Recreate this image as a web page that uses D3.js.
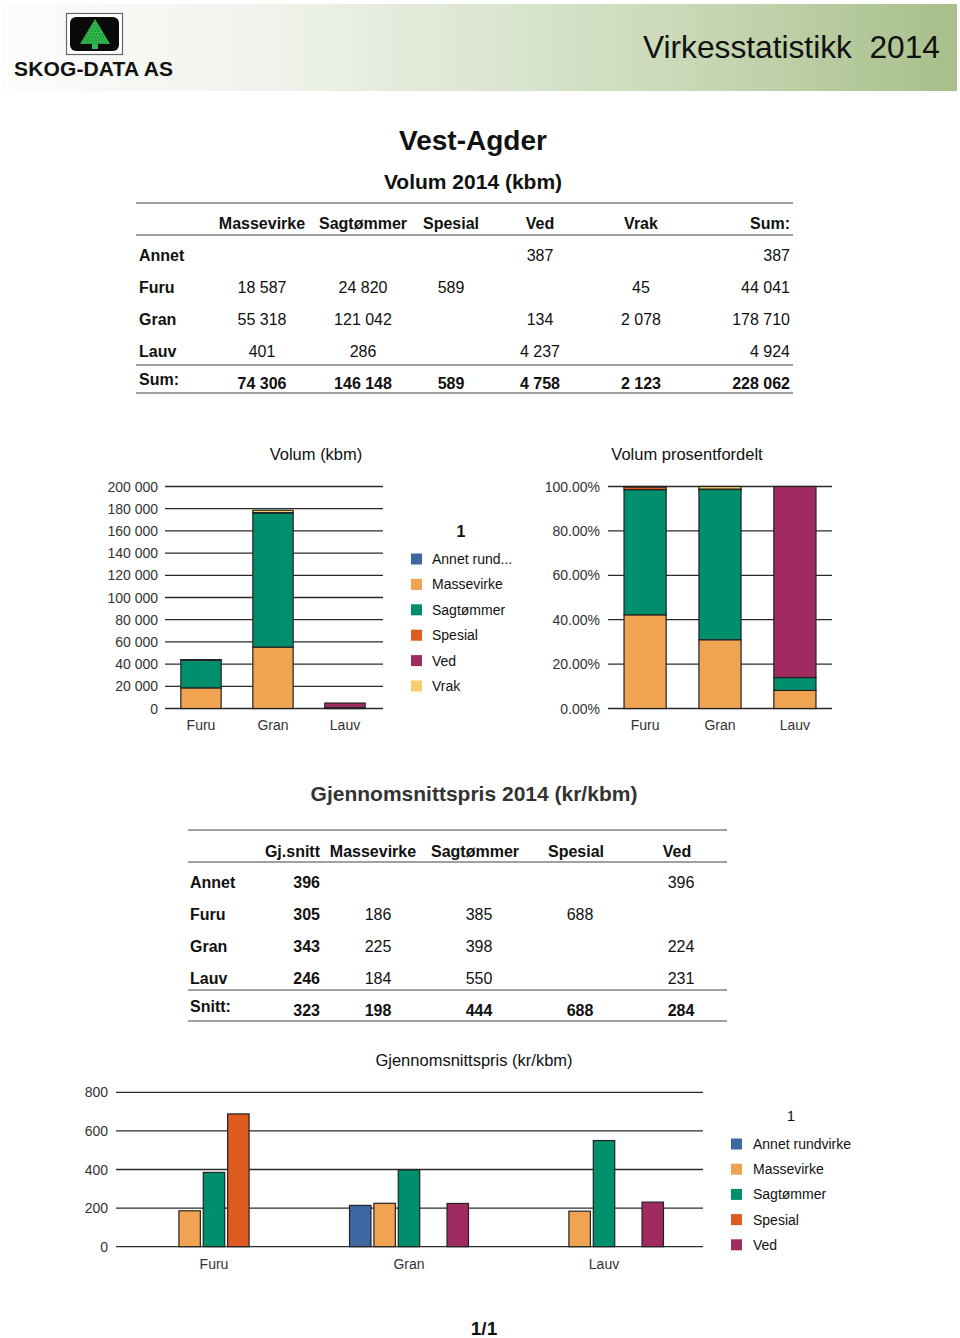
<!DOCTYPE html>
<html><head><meta charset="utf-8">
<script src="https://cdn.jsdelivr.net/npm/d3@7"></script>
<style>
body{margin:0;background:#fff}
svg text{font-family:"Liberation Sans",Arial,sans-serif}
</style>
</head><body>
<svg id="c" width="960" height="1338"></svg>
<script>
// ---------- DATA ----------
const categories = ["Furu", "Gran", "Lauv"];
const seriesNames = ["Annet rundvirke", "Massevirke", "Sagtømmer", "Spesial", "Ved", "Vrak"];
const legend1Labels = ["Annet rund...", "Massevirke", "Sagtømmer", "Spesial", "Ved", "Vrak"];
const legend3Labels = ["Annet rundvirke", "Massevirke", "Sagtømmer", "Spesial", "Ved"];
const seriesColors = ["#3d67a0", "#f0a452", "#008f6c", "#de5b21", "#a02b60", "#f9cd6b"];

// Volum (kbm) per category (Furu, Gran, Lauv)
const volAnnet = [0, 0, 0];
const volMassevirke = [18587, 55318, 401];
const volSagtommer = [24820, 121042, 286];
const volSpesial = [589, 0, 0];
const volVed = [0, 134, 4237];
const volVrak = [45, 2078, 0];

// Gjennomsnittspris (kr/kbm) per category (Furu, Gran, Lauv)
const priceAnnet = [0, 214, 0];
const priceMassevirke = [186, 225, 184];
const priceSagtommer = [385, 398, 550];
const priceSpesial = [688, 0, 0];
const priceVed = [0, 224, 231];

const volTicks = [0, 20000, 40000, 60000, 80000, 100000, 120000, 140000, 160000, 180000, 200000];
const pctTicks = [0, 0.2, 0.4, 0.6, 0.8, 1];
const priceTicks = [0, 200, 400, 600, 800];

// Table 1: Volum 2014 (kbm)
const t1Header = ["Massevirke", "Sagtømmer", "Spesial", "Ved", "Vrak", "Sum:"];
const t1RowLabels = ["Annet", "Furu", "Gran", "Lauv"];
const t1Annet = ["", "", "", "387", "", "387"];
const t1Furu = ["18 587", "24 820", "589", "", "45", "44 041"];
const t1Gran = ["55 318", "121 042", "", "134", "2 078", "178 710"];
const t1Lauv = ["401", "286", "", "4 237", "", "4 924"];
const t1Sum = ["74 306", "146 148", "589", "4 758", "2 123", "228 062"];

// Table 2: Gjennomsnittspris 2014 (kr/kbm)
const t2Header = ["Gj.snitt", "Massevirke", "Sagtømmer", "Spesial", "Ved"];
const t2RowLabels = ["Annet", "Furu", "Gran", "Lauv"];
const t2Annet = ["396", "", "", "", "396"];
const t2Furu = ["305", "186", "385", "688", ""];
const t2Gran = ["343", "225", "398", "", "224"];
const t2Lauv = ["246", "184", "550", "", "231"];
const t2Snitt = ["323", "198", "444", "688", "284"];

// ---------- DRAW ----------
const svg = d3.select("#c");
const defs = svg.append("defs");

// Header band
const grad = defs.append("linearGradient").attr("id", "hg").attr("x1", "0").attr("x2", "1");
grad.append("stop").attr("offset", "0").attr("stop-color", "#fdfdfc");
grad.append("stop").attr("offset", "0.3").attr("stop-color", "#eef2ea");
grad.append("stop").attr("offset", "0.7").attr("stop-color", "#cbdab9");
grad.append("stop").attr("offset", "1").attr("stop-color", "#a7bf8a");
svg.append("rect").attr("x", 2).attr("y", 4).attr("width", 955).attr("height", 87).attr("fill", "url(#hg)");

// Logo
const logo = svg.append("g");
logo.append("rect").attr("x", 66.5).attr("y", 13.5).attr("width", 56).attr("height", 41)
  .attr("fill", "#fff").attr("stroke", "#666").attr("stroke-width", 1.2);
logo.append("rect").attr("x", 70).attr("y", 17).attr("width", 49).attr("height", 34).attr("rx", 6)
  .attr("fill", "#0a0a0a");
logo.append("path").attr("d", "M95,19 L110,44 L80,44 Z").attr("fill", "#2fb84c");
logo.append("rect").attr("x", 92).attr("y", 44).attr("width", 6).attr("height", 5).attr("fill", "#2fb84c");
for (let r = 0; r < 8; r++) {
  const yy = 22 + r * 3;
  const half = (yy - 19) * 15 / 25;
  for (let xx = 95 - half + 1.5; xx < 95 + half - 1; xx += 3) {
    logo.append("circle").attr("cx", xx).attr("cy", yy).attr("r", 0.6).attr("fill", "#0d4d1a");
  }
}
svg.append("text").attr("x", 14).attr("y", 76).attr("font-size", 21).attr("font-weight", "bold")
  .attr("textLength", 159).attr("fill", "#111").text("SKOG-DATA AS");
svg.append("text").attr("x", 940).attr("y", 58).attr("text-anchor", "end").attr("font-size", 31.7)
  .attr("fill", "#111").style("white-space", "pre").text("Virkesstatistikk  2014");

// Titles
svg.append("text").attr("x", 473).attr("y", 150).attr("text-anchor", "middle").attr("font-size", 28)
  .attr("font-weight", "bold").attr("fill", "#111").text("Vest-Agder");
svg.append("text").attr("x", 473).attr("y", 189).attr("text-anchor", "middle").attr("font-size", 21)
  .attr("font-weight", "bold").attr("fill", "#111").text("Volum 2014 (kbm)");

function hline(x1, x2, y) {
  svg.append("line").attr("x1", x1).attr("x2", x2).attr("y1", y).attr("y2", y)
    .attr("stroke", "#808080").attr("stroke-width", 1.5);
}
function txt(x, y, s, anchor, bold, size, color) {
  svg.append("text").attr("x", x).attr("y", y).attr("text-anchor", anchor)
    .attr("font-size", size || 16).attr("font-weight", bold ? "bold" : "normal")
    .attr("fill", color || "#111").text(s);
}

// ---- Table 1 ----
hline(136, 793, 203); hline(136, 793, 235); hline(136, 793, 365); hline(136, 793, 393);
const t1X = [262, 363, 451, 540, 641, 790];
const t1Anchor = ["middle", "middle", "middle", "middle", "middle", "end"];
t1Header.forEach((h, i) => txt(t1X[i], 229, h, t1Anchor[i], true));
[t1Annet, t1Furu, t1Gran, t1Lauv].forEach((row, r) => {
  const y = 261 + r * 32;
  txt(139, y, t1RowLabels[r], "start", true);
  row.forEach((v, i) => { if (v) txt(t1X[i], y, v, t1Anchor[i], false); });
});
txt(139, 385, "Sum:", "start", true);
t1Sum.forEach((v, i) => txt(t1X[i], 389, v, t1Anchor[i], true));

// ---- Stacked data ----
const volRows = categories.map((c, i) => ({
  cat: c,
  "Annet rundvirke": volAnnet[i], "Massevirke": volMassevirke[i], "Sagtømmer": volSagtommer[i],
  "Spesial": volSpesial[i], "Ved": volVed[i], "Vrak": volVrak[i]
}));
const color = d3.scaleOrdinal().domain(seriesNames).range(seriesColors);

function gridAxis(y, ticks, x1, x2, fmt, labelX) {
  const g = svg.append("g");
  ticks.forEach(t => {
    g.append("line").attr("x1", x1).attr("x2", x2).attr("y1", y(t)).attr("y2", y(t))
      .attr("stroke", "#2b2b2b").attr("stroke-width", 1.3);
    g.append("text").attr("x", labelX).attr("y", y(t) + 5).attr("text-anchor", "end")
      .attr("font-size", 14).attr("fill", "#333").text(fmt(t));
  });
}
function catLabels(x, y) {
  categories.forEach(c => {
    svg.append("text").attr("x", x(c) + x.bandwidth() / 2).attr("y", y).attr("text-anchor", "middle")
      .attr("font-size", 14).attr("fill", "#333").text(c);
  });
}
function drawStack(stacked, x, y) {
  const g = svg.append("g");
  stacked.forEach(layer => {
    layer.forEach(d => {
      if (d[1] - d[0] <= 0) return;
      g.append("rect").attr("x", x(d.data.cat)).attr("width", x.bandwidth())
        .attr("y", y(d[1])).attr("height", Math.max(0.5, y(d[0]) - y(d[1])))
        .attr("fill", color(layer.key)).attr("stroke", "#222").attr("stroke-width", 1.2);
    });
  });
}

// ---- Chart 1: Volum (kbm) ----
svg.append("text").attr("x", 316).attr("y", 460).attr("text-anchor", "middle").attr("font-size", 16.5)
  .attr("fill", "#111").text("Volum (kbm)");
const y1 = d3.scaleLinear().domain([0, 200000]).range([708.5, 486.5]);
const x1 = d3.scaleBand().domain(categories).range([165, 381]).paddingInner(0.44).paddingOuter(0.22);
const spaceFmt = v => d3.format(",")(v).replace(/,/g, " ");
gridAxis(y1, volTicks, 165, 383, spaceFmt, 158);
drawStack(d3.stack().keys(seriesNames)(volRows), x1, y1);
catLabels(x1, 730);

// Legend 1
svg.append("text").attr("x", 461).attr("y", 537).attr("text-anchor", "middle").attr("font-size", 16)
  .attr("font-weight", "bold").attr("fill", "#111").text("1");
legend1Labels.forEach((l, i) => {
  const yy = 559 + i * 25.4;
  svg.append("rect").attr("x", 411).attr("y", yy - 5.5).attr("width", 11).attr("height", 11).attr("fill", seriesColors[i]);
  svg.append("text").attr("x", 432).attr("y", yy + 5).attr("font-size", 14).attr("fill", "#111").text(l);
});

// ---- Chart 2: Volum prosentfordelt ----
svg.append("text").attr("x", 687).attr("y", 460).attr("text-anchor", "middle").attr("font-size", 16.5)
  .attr("fill", "#111").text("Volum prosentfordelt");
const y2 = d3.scaleLinear().domain([0, 1]).range([708.5, 486.5]);
const x2 = d3.scaleBand().domain(categories).range([608, 832]).paddingInner(0.4375).paddingOuter(0.214);
gridAxis(y2, pctTicks, 608, 832, d3.format(".2%"), 600);
drawStack(d3.stack().keys(seriesNames).offset(d3.stackOffsetExpand)(volRows), x2, y2);
catLabels(x2, 730);

// ---- Table 2 ----
svg.append("text").attr("x", 474).attr("y", 801).attr("text-anchor", "middle").attr("font-size", 21)
  .attr("font-weight", "bold").attr("fill", "#333").text("Gjennomsnittspris 2014 (kr/kbm)");
hline(188, 727, 830); hline(188, 727, 862); hline(188, 727, 990); hline(188, 727, 1021);
const t2HX = [320, 373, 475, 576, 677];
const t2HA = ["end", "middle", "middle", "middle", "middle"];
const t2VX = [320, 378, 479, 580, 681];
t2Header.forEach((h, i) => txt(t2HX[i], 857, h, t2HA[i], true));
[t2Annet, t2Furu, t2Gran, t2Lauv].forEach((row, r) => {
  const y = 888 + r * 32;
  txt(190, y, t2RowLabels[r], "start", true);
  row.forEach((v, i) => { if (v) txt(t2VX[i], y, v, t2HA[i], i === 0); });
});
txt(190, 1012, "Snitt:", "start", true);
t2Snitt.forEach((v, i) => txt(t2VX[i], 1016, v, t2HA[i], true));

// ---- Chart 3: Gjennomsnittspris ----
svg.append("text").attr("x", 474).attr("y", 1066).attr("text-anchor", "middle").attr("font-size", 16.5)
  .attr("fill", "#111").text("Gjennomsnittspris (kr/kbm)");
const priceSeries = seriesNames.slice(0, 5);
const priceData = [priceAnnet, priceMassevirke, priceSagtommer, priceSpesial, priceVed];
const y3 = d3.scaleLinear().domain([0, 800]).range([1246.7, 1092.3]);
const x3 = d3.scaleBand().domain(categories).range([116, 702]).paddingInner(0.385).paddingOuter(0.195);
const x3s = d3.scaleBand().domain(priceSeries).range([0, x3.bandwidth()]).paddingInner(0.12).paddingOuter(0.02);
gridAxis(y3, priceTicks, 116, 703, d3.format("d"), 108);
categories.forEach((c, ci) => {
  priceSeries.forEach((s, si) => {
    const v = priceData[si][ci];
    if (!v) return;
    svg.append("rect").attr("x", x3(c) + x3s(s)).attr("width", x3s.bandwidth())
      .attr("y", y3(v)).attr("height", y3(0) - y3(v))
      .attr("fill", color(s)).attr("stroke", "#222").attr("stroke-width", 1.2);
  });
});
catLabels(x3, 1269);

// Legend 3
svg.append("text").attr("x", 791).attr("y", 1121).attr("text-anchor", "middle").attr("font-size", 15)
  .attr("fill", "#111").text("1");
legend3Labels.forEach((l, i) => {
  const yy = 1144 + i * 25.2;
  svg.append("rect").attr("x", 731).attr("y", yy - 5.5).attr("width", 11).attr("height", 11).attr("fill", seriesColors[i]);
  svg.append("text").attr("x", 753).attr("y", yy + 5).attr("font-size", 14).attr("fill", "#111").text(l);
});

// Page number
svg.append("text").attr("x", 484).attr("y", 1335).attr("text-anchor", "middle").attr("font-size", 19)
  .attr("font-weight", "bold").attr("fill", "#111").text("1/1");
</script>
</body></html>
